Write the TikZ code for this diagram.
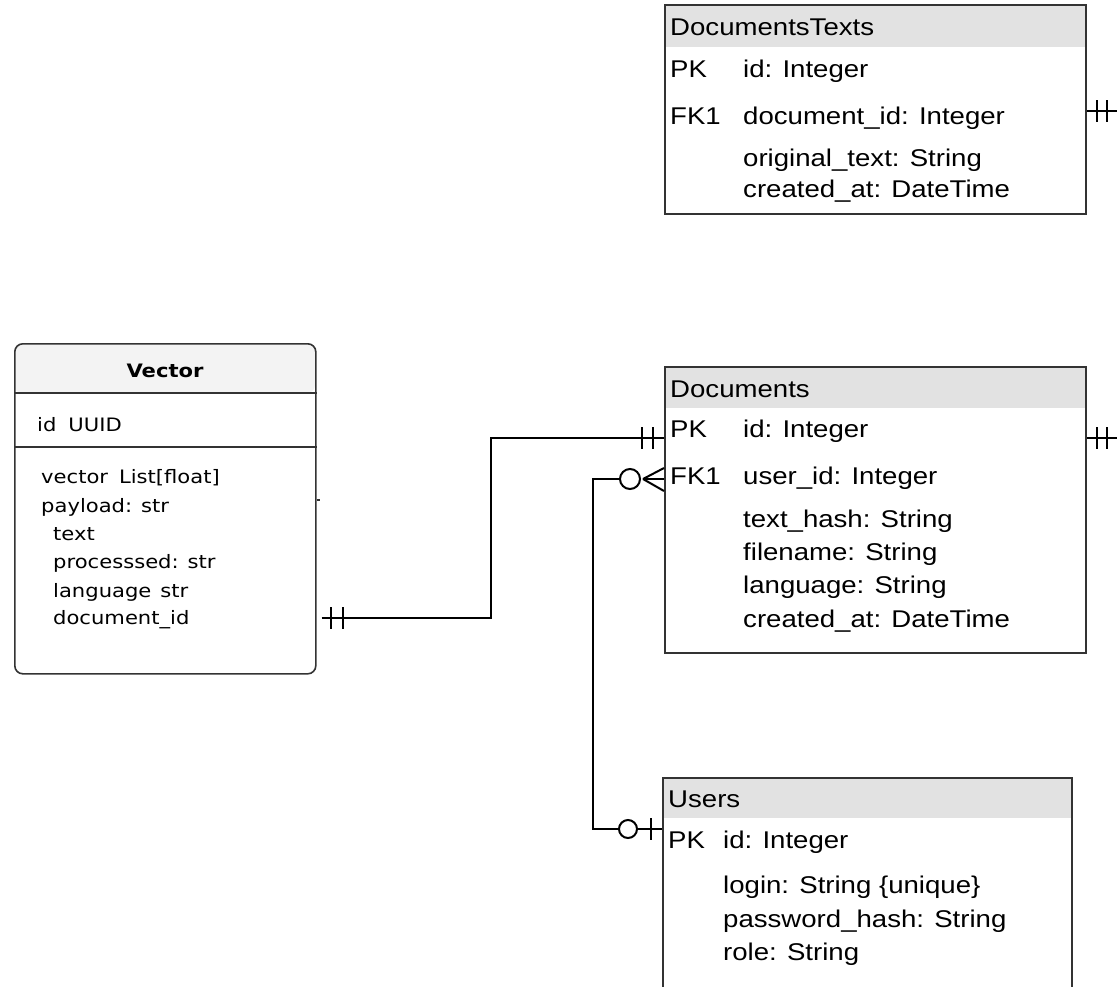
\documentclass[tikz,border=0pt]{standalone}
\usepackage{fontspec}
\setmainfont[FakeStretch=1.14]{Liberation Sans}
\newfontfamily\vecfont[FakeStretch=1.14]{DejaVu Sans}
\usetikzlibrary{calc}
\definecolor{hdrgray}{HTML}{E2E2E2}
\definecolor{vechdr}{HTML}{F3F3F3}
\definecolor{boxline}{HTML}{333333}
\tikzset{
  tbl/.style={draw=boxline, line width=2pt, inner sep=0pt, anchor=north west},
  hdr/.style={fill=hdrgray, inner sep=0pt, anchor=north west},
  er/.style={inner sep=0pt, anchor=base west, font=\fontsize{24.2}{29}\selectfont},
  vt/.style={inner sep=0pt, anchor=base west, font=\vecfont\fontsize{18.5}{22}\selectfont},
  conn/.style={line width=2pt, black},
  tick/.style={line width=2pt, black},
}
\begin{document}
\begin{tikzpicture}[x=1pt,y=-1pt]
\useasboundingbox (0,0) rectangle (1117,986);
\clip (0,0) rectangle (1117,986);

% ---------- DocumentsTexts ----------
\node[hdr, minimum width=421pt, minimum height=43pt] (dthdr) at (664,4) {};
\node[tbl, minimum width=421pt, minimum height=209pt] (dt) at (664,4) {};
\node[er] (dttitle) at (670,35) {DocumentsTexts};
\node[er] (dtpk) at (670,77) {PK};
\node[er] (dtid) at (743,77) {id: Integer};
\node[er] (dtfk) at (670,124) {FK1};
\node[er] (dtdoc) at (743,124) {document\_id: Integer};
\node[er] (dtorig) at (743,166) {original\_text: String};
\node[er] (dtcreated) at (743,197) {created\_at: DateTime};

% ---------- Documents ----------
\node[hdr, minimum width=421pt, minimum height=42pt] (dochdr) at (664,366) {};
\node[tbl, minimum width=421pt, minimum height=286pt] (doc) at (664,366) {};
\node[er] (doctitle) at (670,397) {Documents};
\node[er] (docpk) at (670,437) {PK};
\node[er] (docid) at (743,437) {id: Integer};
\node[er] (docfk) at (670,484) {FK1};
\node[er] (docuser) at (743,484) {user\_id: Integer};
\node[er] (dochash) at (743,527) {text\_hash: String};
\node[er] (docfile) at (743,560) {filename: String};
\node[er] (doclang) at (743,593) {language: String};
\node[er] (doccreated) at (743,627) {created\_at: DateTime};

% ---------- Users ----------
\node[hdr, minimum width=409pt, minimum height=41pt] (ushdr) at (662,777) {};
\node[tbl, minimum width=409pt, minimum height=240pt] (us) at (662,777) {};
\node[er] (ustitle) at (668,807) {Users};
\node[er] (uspk) at (668,848) {PK};
\node[er] (usid) at (723,848) {id: Integer};
\node[er] (uslogin) at (723,893) {login: String \{unique\}};
\node[er] (uspass) at (723,927) {password\_hash: String};
\node[er] (usrole) at (723,960) {role: String};

% ---------- Vector ----------
\fill[vechdr, rounded corners=8pt] (14,393) -- (14,343) -- (315,343) -- (315,393) -- cycle;
\node[draw=boxline, line width=1.6pt, rounded corners=8pt, inner sep=0pt, anchor=north west,
      minimum width=301pt, minimum height=330pt] (vec) at (14,343) {};
\draw[draw=boxline, line width=1.6pt] (vec.west |- 0,393) -- (vec.east |- 0,393);
\draw[draw=boxline, line width=1.6pt] (vec.west |- 0,447) -- (vec.east |- 0,447);
\node[inner sep=0pt, anchor=base, font=\vecfont\bfseries\fontsize{18.5}{22}\selectfont] (vectitle) at (165,377) {Vector};
\node[vt] (vid) at (37,431) {id\hspace{12pt}UUID};
\node[vt] (vvec) at (41,483) {vector\hspace{11pt}List[float]};
\node[vt] (vpay) at (41,512) {payload: str};
\node[vt] (vtext) at (53,540) {text};
\node[vt] (vproc) at (53,568) {processsed: str};
\node[vt] (vlang) at (53,597) {language\hspace{9pt}str};
\node[vt] (vdoc) at (53,624) {document\_id};
\draw[line width=1.5pt, boxline] (vec.east |- 0,500) -- ++(3,0);

% ---------- Connectors ----------
% DocumentsTexts -> right edge
\coordinate (dtout) at (1117,111);
\draw[conn] (dt.east |- dtout) -- (dtout);
\draw[tick] (1097,100) -- (1097,122);
\draw[tick] (1107,100) -- (1107,122);

% Documents -> right edge
\coordinate (docout) at (1117,438);
\draw[conn] (doc.east |- docout) -- (docout);
\draw[tick] (1097,427) -- (1097,449);
\draw[tick] (1107,427) -- (1107,449);

% Vector -> Documents PK
\coordinate (vstart) at ($(vec.east |- 0,618)+(5,0)$);
\coordinate (vbend) at (491,618);
\draw[conn] (vstart) -- (vbend) |- (doc.west |- 0,438);
\draw[tick] (331,607) -- (331,629);
\draw[tick] (343,607) -- (343,629);
\draw[tick] (642,427) -- (642,449);
\draw[tick] (653,427) -- (653,449);

% Documents FK1 -> Users PK
\coordinate (cf) at (643,479);
\draw[conn] (cf) -- (doc.west |- 0,468);
\draw[conn] (cf) -- (doc.west |- 0,479);
\draw[conn] (cf) -- (doc.west |- 0,491);
\draw[conn] (630,479) circle (10);
\coordinate (lbend) at (593,479);
\draw[conn] (620,479) -- (lbend) -- (593,829) -- (619,829);
\draw[conn] (628,829) circle (9);
\draw[conn] (637,829) -- (us.west |- 0,829);
\draw[tick] (651,818) -- (651,840);
\end{tikzpicture}
\end{document}
